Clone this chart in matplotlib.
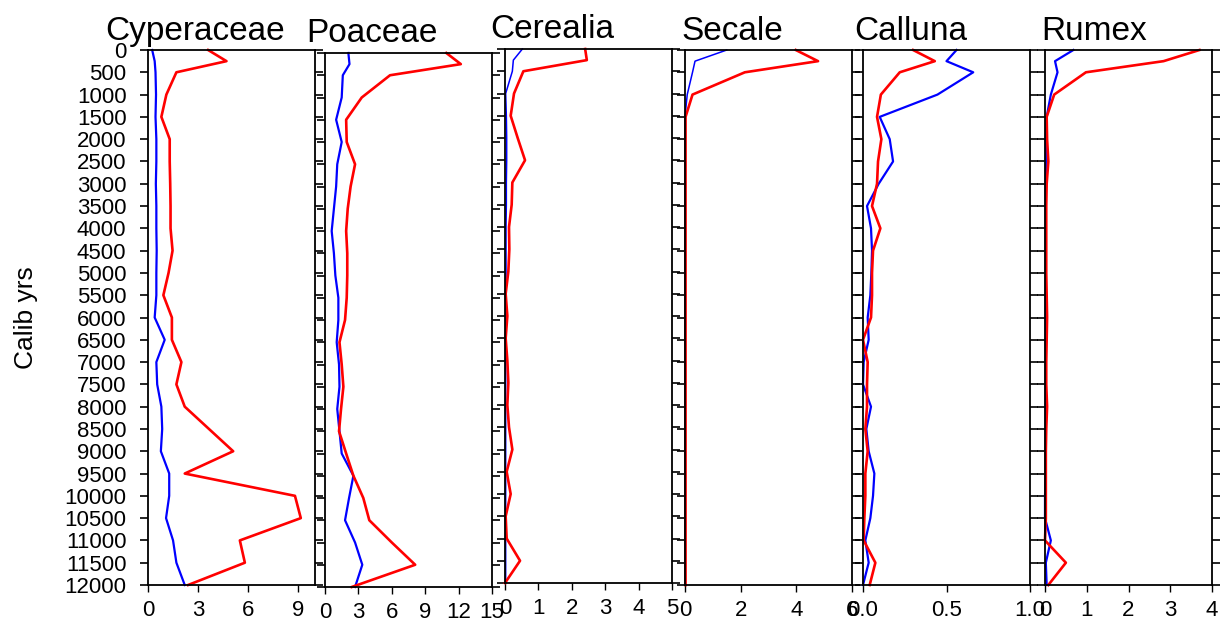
import matplotlib
matplotlib.use("Agg")
import matplotlib.pyplot as plt

plt.rcParams['font.family'] = ['Liberation Sans', 'DejaVu Sans']

# calibrated years (depth axis)
years = [0, 250, 500, 1000, 1500, 2000, 2500, 3000, 3500, 4000, 4500, 5000, 5500,
         6000, 6500, 7000, 7500, 8000, 8500, 9000, 9500, 10000, 10500, 11000, 11500, 12000]

taxa = ['Cyperaceae', 'Poaceae', 'Cerealia', 'Secale', 'Calluna', 'Rumex']

cyperaceae_red = [3.6, 4.7, 1.7, 1.1, 0.8, 1.3, 1.3, 1.33, 1.35, 1.35, 1.47, 1.23, 0.92,
                  1.43, 1.43, 2.0, 1.7, 2.2, 3.65, 5.1, 2.2, 8.8, 9.15, 5.5, 5.8, 2.4]
cyperaceae_blue = [0.25, 0.4, 0.45, 0.48, 0.45, 0.5, 0.5, 0.47, 0.5, 0.5, 0.52, 0.5, 0.5,
                   0.4, 1.0, 0.5, 0.55, 0.8, 0.85, 0.77, 1.27, 1.27, 1.08, 1.5, 1.7, 2.2]

poaceae_red = [10.9, 12.2, 5.84, 3.3, 1.9, 1.95, 2.7, 2.3, 2.04, 1.9, 2.0, 2.0, 1.95,
               1.8, 1.3, 1.5, 1.65, 1.44, 1.26, 1.9, 2.55, 3.44, 3.98, 6.0, 8.1, 2.4]
poaceae_blue = [2.1, 2.2, 1.6, 1.5, 1.0, 1.5, 1.1, 1.0, 0.8, 0.6, 0.8, 0.93, 1.2,
                1.2, 1.05, 1.26, 1.3, 1.1, 1.3, 1.5, 2.55, 2.16, 1.8, 2.7, 3.35, 2.7]

cerealia_red = [2.4, 2.45, 0.55, 0.27, 0.17, 0.38, 0.6, 0.22, 0.2, 0.12, 0.13, 0.1, 0.02,
                0.07, 0.02, 0.07, 0.1, 0.07, 0.12, 0.22, 0.05, 0.17, 0.02, 0.05, 0.45, 0.0]
cerealia_blue = [0.52, 0.25, 0.22, 0.02, 0.04, 0.05, 0.05, 0.04, 0.04, 0.03, 0.03, 0.03, 0.03,
                 0.03, 0.02, 0.02, 0.02, 0.02, 0.02, 0.02, 0.02, 0.02, 0.02, 0.02, 0.02, 0.02]

secale_red = [3.98, 4.78, 2.15, 0.27, 0.02, 0.02, 0.02, 0.02, 0.02, 0.02, 0.02, 0.02, 0.02,
              0.02, 0.02, 0.02, 0.02, 0.02, 0.02, 0.02, 0.02, 0.02, 0.02, 0.02, 0.02, 0.02]
secale_blue = [1.5, 0.36, 0.27, 0.08, 0.0, 0.0, 0.0, 0.0, 0.0, 0.0, 0.0, 0.0, 0.0,
               0.0, 0.0, 0.0, 0.0, 0.0, 0.0, 0.0, 0.0, 0.0, 0.0, 0.0, 0.0, 0.0]

calluna_red = [0.30, 0.43, 0.22, 0.107, 0.084, 0.11, 0.09, 0.084, 0.054, 0.104, 0.06, 0.054, 0.054,
               0.048, 0.0, 0.028, 0.024, 0.024, 0.014, 0.028, 0.014, 0.014, 0.008, 0.004, 0.074, 0.04]
calluna_blue = [0.56, 0.50, 0.66, 0.446, 0.1, 0.16, 0.18, 0.094, 0.024, 0.048, 0.054, 0.05, 0.044,
                0.028, 0.034, 0.004, 0.0, 0.048, 0.02, 0.034, 0.068, 0.06, 0.044, 0.014, 0.034, 0.0]

rumex_red = [3.7, 2.84, 0.98, 0.22, 0.04, 0.05, 0.08, 0.04, 0.03, 0.03, 0.03, 0.03, 0.04,
             0.05, 0.04, 0.03, 0.03, 0.05, 0.03, 0.02, 0.02, 0.02, 0.02, 0.0, 0.5, 0.08]
rumex_blue = [0.68, 0.24, 0.3, 0.14, 0.04, 0.02, 0.02, 0.02, 0.02, 0.02, 0.02, 0.02, 0.02,
              0.02, 0.02, 0.02, 0.02, 0.02, 0.02, 0.02, 0.02, 0.0, 0.0, 0.14, 0.02, 0.04]

reds = [cyperaceae_red, poaceae_red, cerealia_red, secale_red, calluna_red, rumex_red]
blues = [cyperaceae_blue, poaceae_blue, cerealia_blue, secale_blue, calluna_blue, rumex_blue]

xmax = [10, 15, 5, 6, 1.0, 4]
xticks = [[0, 3, 6, 9], [0, 3, 6, 9, 12, 15], [0, 1, 2, 3, 4, 5],
          [0, 2, 4, 6], [0.0, 0.5, 1.0], [0, 1, 2, 3, 4]]
xticklabels = [['0', '3', '6', '9'], ['0', '3', '6', '9', '12', '15'],
               ['0', '1', '2', '3', '4', '5'], ['0', '2', '4', '6'],
               ['0.0', '0.5', '1.0'], ['0', '1', '2', '3', '4']]
yticks = list(range(0, 12001, 500))

# layout (figure pixels)
W, H = 1222, 632
lefts = [148, 325, 505, 685, 863, 1045]
tops = [50, 53, 49, 50, 50, 50]
bottoms = [585, 587, 583, 585, 585, 585]
title_x = [105, 306, 490, 681, 854, 1041]
title_base = [40, 42, 38, 40, 40, 40]
blue_lw = [1.6, 1.6, 1.1, 1.1, 1.6, 1.6]

fig = plt.figure(figsize=(W / 100, H / 100), dpi=100)

for i in range(6):
    ax = fig.add_axes([lefts[i] / W, 1 - bottoms[i] / H, 167 / W, (bottoms[i] - tops[i]) / H])
    ax.plot(blues[i], years, color='#0000ff', lw=blue_lw[i], clip_on=False)
    ax.plot(reds[i], years, color='#ff0000', lw=1.9, clip_on=False)
    ax.set_xlim(0, xmax[i])
    ax.set_ylim(12000, 0)
    ax.set_xticks(xticks[i])
    ax.set_xticklabels(xticklabels[i], fontsize=16)
    ax.set_yticks(yticks)
    ax.tick_params(axis='y', left=True, right=True, direction='out',
                   length=5.5, width=1.2, pad=10)
    ax.tick_params(axis='x', direction='out', length=5, width=1.0, pad=6)
    if i == 0:
        ax.set_yticklabels([str(y) for y in yticks], fontsize=16)
        ax.set_ylabel('Calib yrs', fontsize=19)
        ax.yaxis.set_label_coords(-0.66, 0.5)
    else:
        ax.set_yticklabels([])
    for s in ax.spines.values():
        s.set_linewidth(1.3)
    fig.text(title_x[i] / W, 1 - title_base[i] / H, taxa[i], fontsize=24,
             ha='left', va='baseline')

fig.savefig('out.png', dpi=100)
